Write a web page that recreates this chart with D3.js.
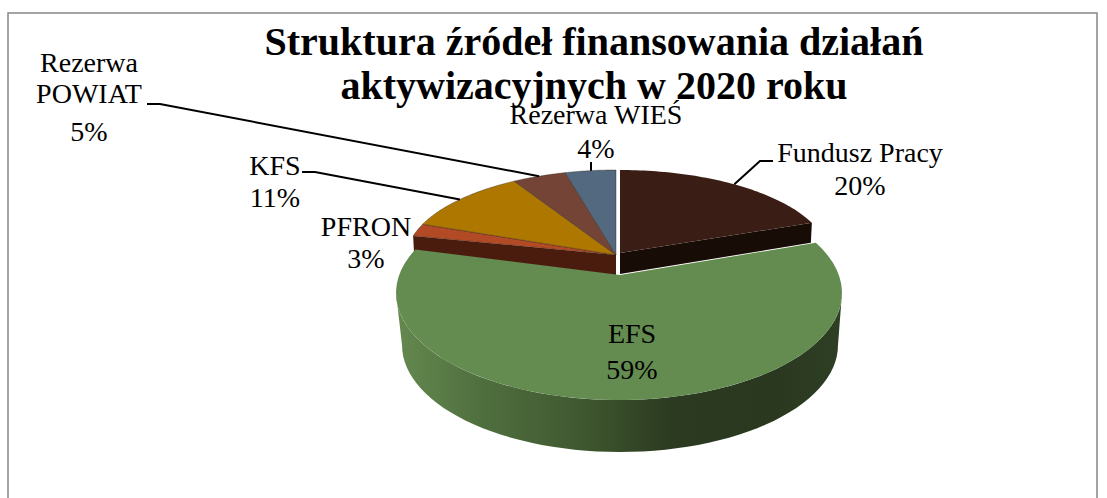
<!DOCTYPE html>
<html lang="pl"><head><meta charset="utf-8">
<script src="https://cdn.jsdelivr.net/npm/d3@7"></script>
<style>html,body{margin:0;padding:0;background:#fff}svg{display:block}
text{font-family:"Liberation Serif",serif;fill:#000}</style></head><body>
<svg id="c" width="1107" height="498"></svg>
<script>
const titleLines = ["Struktura źródeł finansowania działań", "aktywizacyjnych w 2020 roku"];
const categories = ["Fundusz Pracy", "EFS", "PFRON", "KFS", "Rezerwa POWIAT", "Rezerwa WIEŚ"];
const shares = [20, 59, 3, 11, 5, 4];
const topColors = ["#3a1e15", "#648c50", "#b14a25", "#ae7800", "#744536", "#52697f"];
const sideColors = ["#170c06", null, "#4a1c0e", null, null, null];

const svg = d3.select("#c");
// chart frame
svg.append("rect").attr("x", 8).attr("y", 13).attr("width", 1089).attr("height", 500)
  .attr("fill", "#fff").attr("stroke", "#868686").attr("stroke-width", 1.5);

// 3D perspective: pie angles -> angles seen on the tilted ellipses
const arcs = d3.pie().sort(null)(shares);
const breaks = [0, ...arcs.map(a => a.endAngle * 180 / Math.PI)];
const backWarp = d3.scaleLinear().domain(breaks).range([0, 66, 285, 293, 331, 346, 360]);
const frontWarp = d3.scaleLinear().domain([breaks[1], breaks[2]]).range([62, 294]);

const backLeft = {cx: 616, cy: 259, rx: 210, ry: 89, ax: 616, ay: 255};
const backRight = {cx: 620, cy: 259, rx: 210, ry: 89, ax: 620, ay: 253};
const front = {cx: 619, cy: 293, rx: 223, ry: 107, ax: 620, ay: 275};
const frontBase = {cx: 620, cy: 345, rx: 218, ry: 107};
const backDepth = 20;

const rad = d => d * Math.PI / 180;
const pt = (e, deg) => [e.cx + e.rx * Math.sin(rad(deg)), e.cy - e.ry * Math.cos(rad(deg))];
const rim = (e, a0, a1) => d3.range(0, 61).map(i => pt(e, a0 + (a1 - a0) * i / 60));
const line = d3.line();
const closed = p => line(p) + "Z";

const faces = arcs.map((a, i) => {
  const isFront = i === 1;
  const e = isFront ? front : (i === 0 ? backRight : backLeft);
  const w = isFront ? frontWarp : backWarp;
  const d0 = w(a.startAngle * 180 / Math.PI), d1 = w(a.endAngle * 180 / Math.PI);
  return {i, e, d0, d1, mid: (d0 + d1) / 2};
});

// side walls of the back slices (their cut faces)
const g = svg.append("g");
[faces[0], faces[2]].forEach(f => {
  const corner = f.i === 0 ? pt(f.e, f.d1) : pt(f.e, f.d0);
  g.append("path").attr("fill", sideColors[f.i]).attr("d", closed([
    [f.e.ax, f.e.ay], corner, [corner[0] + (f.i === 0 ? -1 : 1), corner[1] + backDepth], [f.e.ax, f.e.ay + backDepth + 1]
  ]));
});
// top faces of the back slices
faces.filter(f => f.i !== 1).forEach(f => {
  g.append("path").attr("fill", topColors[f.i])
    .attr("stroke", f.i === 0 ? "none" : "#2b1d14").attr("stroke-opacity", .55).attr("stroke-width", .7)
    .attr("d", closed([[f.e.ax, f.e.ay], ...rim(f.e, f.d0, f.d1)]));
});
// front slice: wall with gradient, then top
const defs = svg.append("defs");
const grad = defs.append("linearGradient").attr("id", "wall").attr("gradientUnits", "userSpaceOnUse")
  .attr("x1", 396).attr("x2", 842).attr("y1", 0).attr("y2", 0);
[[0, "#64894f"], [.2, "#4f6e3e"], [.4, "#415a31"], [.62, "#2b3a20"], [.85, "#2a381f"], [1, "#2e3f24"]]
  .forEach(s => grad.append("stop").attr("offset", s[0]).attr("stop-color", s[1]));
g.append("path").attr("fill", "url(#wall)").attr("d", closed([
  ...rim(front, 90, 270), ...rim(frontBase, 270, 90)
]));
const ef = faces[1];
g.append("path").attr("fill", topColors[1])
  .attr("d", closed([[front.ax, front.ay], ...rim(front, ef.d0, ef.d1)]));

// leader lines
const leaders = [
  {i: 0, elbow: [[773, 161], [760, 161]]},
  {i: 3, elbow: [[302, 172], [315, 172]]},
  {i: 4, elbow: [[147, 104], [160, 104]]},
  {i: 5, elbow: [[591, 162]]}
];
leaders.forEach(l => {
  const f = faces[l.i];
  const end = pt(f.e, f.mid);
  const p = l.i === 5 ? [l.elbow[0], [l.elbow[0][0], end[1]]] : [...l.elbow, end];
  svg.append("path").attr("fill", "none").attr("stroke", "#000").attr("stroke-width", 2).attr("d", line(p));
});

// title
svg.selectAll("text.t").data(titleLines).join("text").attr("class", "t")
  .attr("x", 594).attr("y", (d, i) => 55 + i * 44).attr("text-anchor", "middle")
  .attr("font-size", 40).attr("font-weight", "bold").text(d => d);

// data labels: one entry per category
const labelLines = [
  [categories[0]], [categories[1]], [categories[2]], [categories[3]], ["Rezerwa", "POWIAT"], [categories[5]]
];
const labelAnchor = [[860, 162], [632, 343], [366, 236], [275, 175], [89, 72], [596, 124]];
const lineStep = [33, 36, 32, 32, 31, 34];
labelLines.forEach((ls, i) => {
  const [x, y] = labelAnchor[i];
  [...ls, shares[i] + "%"].forEach((s, k) => {
    const isLast = k === ls.length;
    svg.append("text").attr("x", x).attr("text-anchor", "middle")
      .attr("y", y + k * lineStep[i] + (isLast && ls.length > 1 ? 7 : 0))
      .attr("font-size", 28).text(s);
  });
});
</script></body></html>
